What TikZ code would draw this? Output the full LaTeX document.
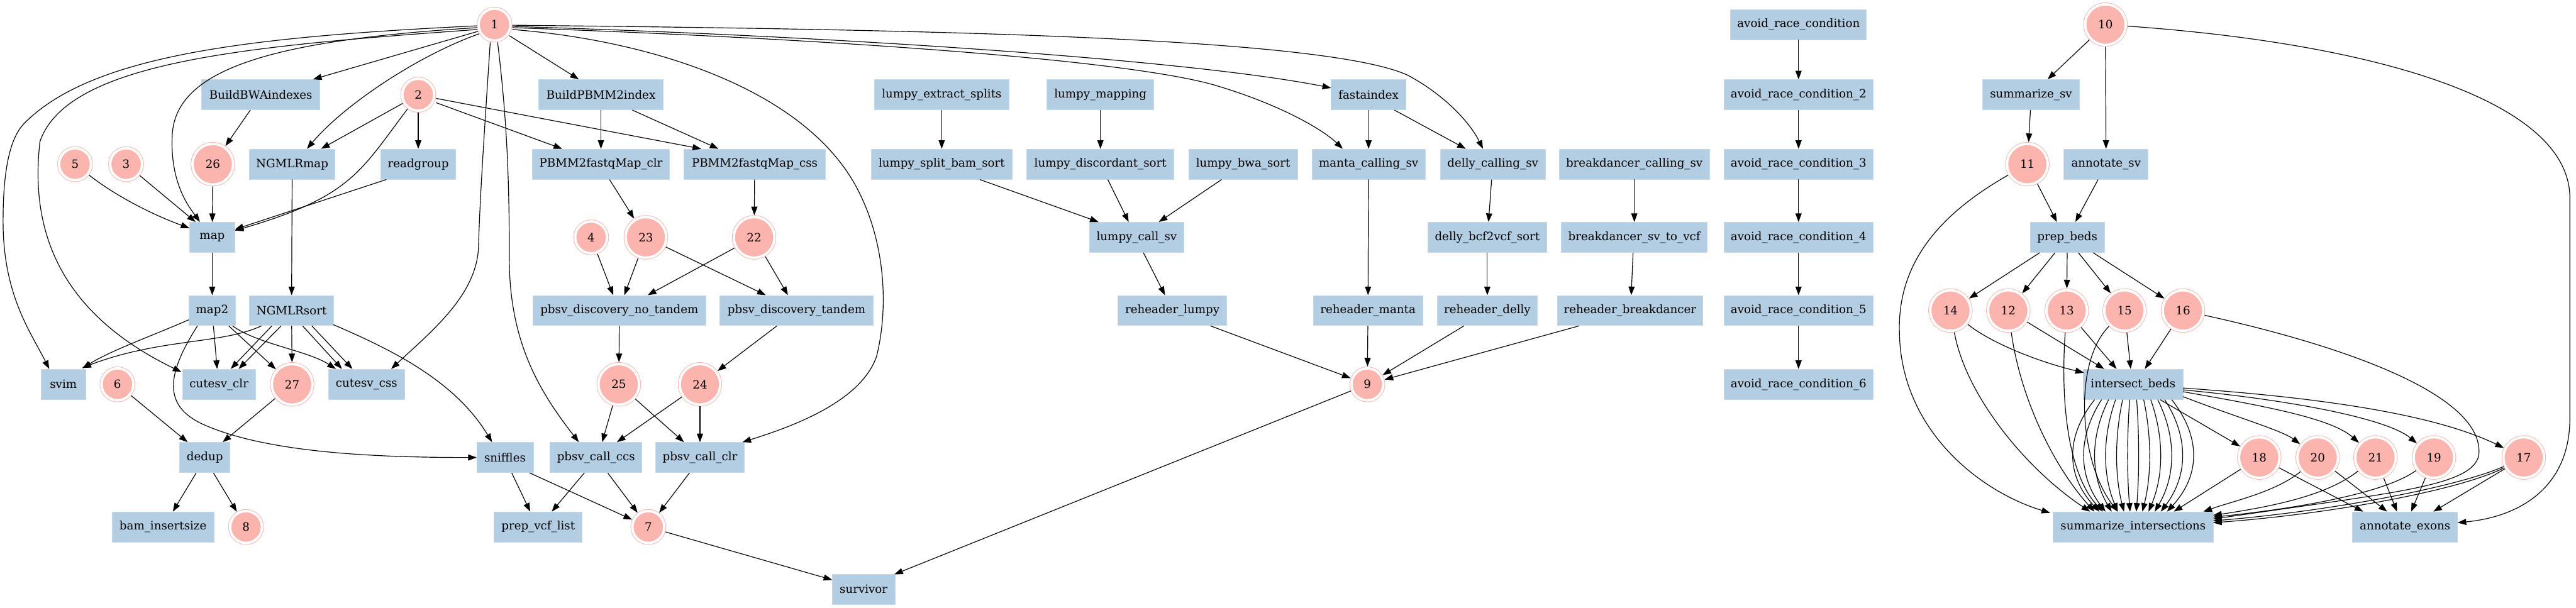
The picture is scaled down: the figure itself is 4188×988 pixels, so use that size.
\documentclass[tikz,border=0pt]{standalone}
\usepackage{fontspec}
\setmainfont{DejaVu Serif}
\usetikzlibrary{arrows.meta,calc}
\definecolor{pk}{HTML}{FBB4AE}
\definecolor{bx}{HTML}{B3CDE3}
\begin{document}
\begin{tikzpicture}[x=0.5pt,y=-0.5pt,
  lbl/.style={font=\fontsize{9.33pt}{11pt}\selectfont},
  box/.style={lbl, rectangle, fill=bx, draw=bx!75!white, line width=0.4pt, minimum height=24.5pt, inner sep=0pt},
  dc/.style={lbl, circle, fill=pk, draw=pk, double=white, double distance=2pt, line width=0.5pt, minimum size=26pt, inner sep=0pt, outer sep=1.5pt},
  dcc/.style={dc, minimum size=33pt},
  e/.style={line width=0.6pt, -{Triangle[length=7pt,width=5pt]}}]
\useasboundingbox (0,0) rectangle (4188,988);
% row 0
\node[dc] (n1) at (804,40) {1};
\node[box, minimum width=110.5pt] (arc1) at (2924,40) {avoid\_race\_condition};
\node[dcc] (n10) at (3423,40) {10};
% row 1
\node[box, minimum width=96pt] (bbwa) at (424,154) {BuildBWAindexes};
\node[dc] (n2) at (680,154) {2};
\node[box, minimum width=101.5pt] (bpb) at (977,154) {BuildPBMM2index};
\node[box, minimum width=109.5pt] (les) at (1531,154) {lumpy\_extract\_splits};
\node[box, minimum width=87pt] (lmap) at (1789,154) {lumpy\_mapping};
\node[box, minimum width=61pt] (fai) at (2225,154) {fastaindex};
\node[box, minimum width=121pt] (arc2) at (2924,154) {avoid\_race\_condition\_2};
\node[box, minimum width=78.5pt] (ssv) at (3302,154) {summarize\_sv};
% row 2
\node[dc] (n5) at (122,267) {5};
\node[dc] (n3) at (205,267) {3};
\node[dcc] (n26) at (346,267) {26};
\node[box, minimum width=69.5pt] (ngm) at (475,267) {NGMLRmap};
\node[box, minimum width=61pt] (rg) at (680,267) {readgroup};
\node[box, minimum width=111.5pt] (pclr) at (977,267) {PBMM2fastqMap\_clr};
\node[box, minimum width=115pt] (pcss) at (1227,267) {PBMM2fastqMap\_css};
\node[box, minimum width=114.5pt] (lsbs) at (1531,267) {lumpy\_split\_bam\_sort};
\node[box, minimum width=119.5pt] (lds) at (1789,267) {lumpy\_discordant\_sort};
\node[box, minimum width=88.5pt] (lbs) at (2021,267) {lumpy\_bwa\_sort};
\node[box, minimum width=92pt] (manta) at (2225,267) {manta\_calling\_sv};
\node[box, minimum width=85.5pt] (delly) at (2427,267) {delly\_calling\_sv};
\node[box, minimum width=122pt] (bdc) at (2657,267) {breakdancer\_calling\_sv};
\node[box, minimum width=121pt] (arc3) at (2924,267) {avoid\_race\_condition\_3};
\node[dcc] (n11) at (3296,267) {11};
\node[box, minimum width=68.5pt] (asv) at (3424,267) {annotate\_sv};
% row 3
\node[box, minimum width=36.5pt] (map) at (345,386) {map};
\node[dc] (n4) at (961,386) {4};
\node[dcc] (n23) at (1050,386) {23};
\node[dcc] (n22) at (1226,386) {22};
\node[box, minimum width=77pt] (lcs) at (1848,386) {lumpy\_call\_sv};
\node[box, minimum width=97pt] (dbs) at (2418,386) {delly\_bcf2vcf\_sort};
\node[box, minimum width=118.5pt] (bsv) at (2657,386) {breakdancer\_sv\_to\_vcf};
\node[box, minimum width=121pt] (arc4) at (2924,386) {avoid\_race\_condition\_4};
\node[box, minimum width=60.5pt] (pb) at (3361,386) {prep\_beds};
% row 4
\node[box, minimum width=38pt] (map2) at (345,505) {map2};
\node[box, minimum width=68.5pt] (ngs) at (474,505) {NGMLRsort};
\node[box, minimum width=140.5pt] (pdnt) at (1007,505) {pbsv\_discovery\_no\_tandem};
\node[box, minimum width=125pt] (pdt) at (1295,505) {pbsv\_discovery\_tandem};
\node[box, minimum width=88.5pt] (rl) at (1906,505) {reheader\_lumpy};
\node[box, minimum width=89pt] (rm) at (2224,505) {reheader\_manta};
\node[box, minimum width=81.5pt] (rd) at (2418,505) {reheader\_delly};
\node[box, minimum width=118.5pt] (rb) at (2650,505) {reheader\_breakdancer};
\node[box, minimum width=121pt] (arc5) at (2924,505) {avoid\_race\_condition\_5};
\node[dcc] (n14) at (3171,505) {14};
\node[dcc] (n12) at (3265,505) {12};
\node[dcc] (n13) at (3360,505) {13};
\node[dcc] (n15) at (3454,505) {15};
\node[dcc] (n16) at (3549,505) {16};
% row 5
\node[box, minimum width=36.5pt] (svim) at (103,625) {svim};
\node[dc] (n6) at (191,625) {6};
\node[box, minimum width=59.5pt] (cclr) at (356,625) {cutesv\_clr};
\node[dcc] (n27) at (475,625) {27};
\node[box, minimum width=62pt] (ccss) at (596,625) {cutesv\_css};
\node[dcc] (n25) at (1006,625) {25};
\node[dcc] (n24) at (1138,625) {24};
\node[dc] (n9) at (2223,625) {9};
\node[box, minimum width=121pt] (arc6) at (2924,625) {avoid\_race\_condition\_6};
\node[box, minimum width=81pt] (ib) at (3468,625) {intersect\_beds};
% row 6
\node[box, minimum width=41pt] (dedup) at (333,744) {dedup};
\node[box, minimum width=46pt] (snf) at (821,744) {sniffles};
\node[box, minimum width=74.5pt] (pcc) at (969,744) {pbsv\_call\_ccs};
\node[box, minimum width=72pt] (pcl) at (1138,744) {pbsv\_call\_clr};
\node[dcc] (n18) at (3673,744) {18};
\node[dcc] (n20) at (3768,744) {20};
\node[dcc] (n21) at (3862,744) {21};
\node[dcc] (n19) at (3957,744) {19};
\node[dcc] (n17) at (4103,744) {17};
% row 7
\node[box, minimum width=83pt] (bis) at (265,857) {bam\_insertsize};
\node[dc] (n8) at (400,857) {8};
\node[box, minimum width=71.5pt] (pvl) at (875,857) {prep\_vcf\_list};
\node[dc] (n7) at (1054,857) {7};
\node[box, minimum width=130pt] (si) at (3468,857) {summarize\_intersections};
\node[box, minimum width=85.5pt] (ae) at (3910,857) {annotate\_exons};
% row 8
\node[box, minimum width=51pt] (surv) at (1404,958) {survivor};

% ---- edges from 1
\draw[e] ($(n1)+(-28,2)$) .. controls (400,60) and (150,90) .. (40,200) .. controls (15,225) and (5,280) .. (5,360) .. controls (5,480) and (50,540) .. ($(svim)+(-23,-25)$);
\draw[e] ($(n1)+(-28,8)$) .. controls (400,75) and (110,100) .. (65,230) .. controls (45,400) and (120,520) .. ($(cclr)+(-61,-20)$);
\draw[e] ($(n1)+(-28,5)$) .. controls (450,65) and (285,110) .. (280,220) .. controls (276,300) and (310,340) .. ($(map)+(-20,-25)$);
\draw[e] ($(n1)+(-27,11)$) -- ($(bbwa)+(85,-25)$);
\draw[e] ($(n1)+(-25,15)$) .. controls (680,90) and (560,170) .. ($(ngm)+(24,-25)$);
\draw[e] ($(n1)+(24,18)$) -- ($(bpb)+(-36,-25)$);
\draw[e] ($(n1)+(-7,29)$) .. controls (785,250) and (780,330) .. (778,400) .. controls (776,480) and (700,540) .. ($(ccss)+(40,-25)$);
\draw[e] ($(n1)+(5,29)$) .. controls (825,200) and (828,300) .. (828,420) .. controls (828,560) and (880,640) .. ($(pcc)+(-28,-25)$);
\draw[e] ($(n1)+(29,8)$) .. controls (1050,65) and (1300,140) .. (1390,300) .. controls (1440,390) and (1445,500) .. (1425,580) .. controls (1400,650) and (1300,690) .. ($(pcl)+(69,-25)$);
\draw[e] ($(n1)+(29,3)$) .. controls (1400,60) and (1950,100) .. ($(fai)+(-61,-11)$);
\draw[e] ($(n1)+(29,5)$) .. controls (1400,65) and (1850,100) .. (1980,140) .. controls (2080,170) and (2150,210) .. ($(manta)+(-42,-25)$);
\draw[e] ($(n1)+(29,1)$) .. controls (1500,48) and (2150,60) .. (2288,122) .. controls (2350,155) and (2390,200) .. ($(delly)+(-16,-25)$);
% ---- from 2
\draw[e] (n2) -- ($(ngm)+(47,-25)$);
\draw[e] (n2) .. controls (585,280) and (570,320) .. ($(map)+(37,-11)$);
\draw[e] ($(rg)+(-52,25)$) -- ($(map)+(37,-13)$);
\draw[e] (n2) -- (rg);
\draw[e] ($(n2)+(29,13)$) -- ($(pclr)+(-63,-25)$);
\draw[e] ($(n2)+(29,6)$) -- ($(pcss)+(-87,-25)$);
\draw[e] (bpb) -- (pclr);
\draw[e] ($(bpb)+(51,25)$) -- ($(pcss)+(-59,-25)$);
\draw[e] ($(bbwa)+(-17,25)$) -- (n26);
% ---- map
\draw[e] (n5) .. controls (190,320) and (250,350) .. ($(map)+(-37,-15)$);
\draw[e] (n3) -- ($(map)+(-27,-25)$);
\draw[e] (n26) -- (map);
\draw[e] (map) -- (map2);
\draw[e] (ngm) -- (ngs);
% ---- map2
\draw[e] ($(map2)+(-38,15)$) .. controls (250,545) and (180,570) .. ($(svim)+(31,-26)$);
\draw[e] ($(map2)+(2,25)$) -- ($(cclr)+(-3,-25)$);
\draw[e] ($(map2)+(27,25)$) -- (n27);
\draw[e] ($(map2)+(33,25)$) .. controls (420,560) and (500,570) .. ($(ccss)+(-50,-25)$);
\draw[e] ($(map2)+(-24,25)$) .. controls (270,610) and (265,660) .. (330,690) .. controls (430,735) and (600,744) .. ($(snf)+(-46,0)$);
% ---- NGMLRsort
\draw[e] ($(ngs)+(-49,25)$) .. controls (360,560) and (260,550) .. ($(svim)+(31,-27)$);
\draw[e] ($(ngs)+(-32,25)$) -- ($(cclr)+(19,-25)$);
\draw[e] ($(ngs)+(-17,25)$) -- ($(cclr)+(32,-25)$);
\draw[e] (ngs) -- (n27);
\draw[e] ($(ngs)+(18,25)$) -- ($(ccss)+(-40,-25)$);
\draw[e] ($(ngs)+(33,25)$) -- ($(ccss)+(-23,-25)$);
\draw[e] ($(ngs)+(68,23)$) .. controls (640,570) and (740,620) .. ($(snf)+(-21,-25)$);
% ---- dedup etc
\draw[e] (n6) -- ($(dedup)+(-28,-25)$);
\draw[e] (n27) -- ($(dedup)+(29,-25)$);
\draw[e] ($(dedup)+(-14,25)$) -- ($(bis)+(16,-25)$);
\draw[e] ($(dedup)+(14,25)$) -- (n8);
\draw[e] ($(snf)+(11,25)$) -- ($(pvl)+(-13,-25)$);
\draw[e] ($(snf)+(40,25)$) -- (n7);
\draw[e] ($(pcc)+(-19,25)$) -- ($(pvl)+(22,-25)$);
\draw[e] ($(pcc)+(19,25)$) -- (n7);
\draw[e] ($(pcl)+(-17,25)$) -- (n7);
\draw[e] (n7) -- ($(surv)+(-51,-15)$);
\draw[e] (n9) -- ($(surv)+(50,-24)$);
% ---- pbsv
\draw[e] ($(pclr)+(14,25)$) -- (n23);
\draw[e] (pcss) -- (n22);
\draw[e] (n4) -- ($(pdnt)+(-10,-25)$);
\draw[e] (n23) -- ($(pdnt)+(8,-25)$);
\draw[e] (n22) -- ($(pdnt)+(46,-25)$);
\draw[e] (n23) -- ($(pdt)+(-50,-25)$);
\draw[e] (n22) -- ($(pdt)+(-14,-25)$);
\draw[e] (pdnt) -- (n25);
\draw[e] ($(pdt)+(-32,25)$) -- (n24);
\draw[e] (n25) -- ($(pcc)+(10,-25)$);
\draw[e] (n25) -- ($(pcl)+(-26,-25)$);
\draw[e] (n24) -- ($(pcc)+(34,-25)$);
\draw[e] (n24) -- (pcl);
% ---- lumpy
\draw[e] (les) -- (lsbs);
\draw[e] (lmap) -- (lds);
\draw[e] ($(lsbs)+(62,25)$) -- ($(lcs)+(-62,-25)$);
\draw[e] ($(lds)+(12,25)$) -- ($(lcs)+(-13,-25)$);
\draw[e] ($(lbs)+(-35,25)$) -- ($(lcs)+(36,-25)$);
\draw[e] ($(lcs)+(11,25)$) -- ($(rl)+(-12,-25)$);
\draw[e] ($(rl)+(62,25)$) -- (n9);
% ---- manta / delly / breakdancer
\draw[e] (fai) -- (manta);
\draw[e] ($(fai)+(42,25)$) -- ($(delly)+(-44,-25)$);
\draw[e] (manta) -- (rm);
\draw[e] (rm) -- (n9);
\draw[e] ($(delly)+(-2,25)$) -- ($(dbs)+(2,-25)$);
\draw[e] (dbs) -- (rd);
\draw[e] ($(rd)+(-38,25)$) -- (n9);
\draw[e] (bdc) -- (bsv);
\draw[e] ($(bsv)+(-2,25)$) -- ($(rb)+(2,-25)$);
\draw[e] ($(rb)+(-83,25)$) -- (n9);
% ---- avoid race condition chain
\draw[e] (arc1) -- (arc2);
\draw[e] (arc2) -- (arc3);
\draw[e] (arc3) -- (arc4);
\draw[e] (arc4) -- (arc5);
\draw[e] (arc5) -- (arc6);
% ---- right cluster
\draw[e] (n10) -- ($(ssv)+(27,-25)$);
\draw[e] (n10) -- (asv);
\draw[e] (n10) .. controls (3850,70) and (4175,160) .. (4178,320) -- (4178,680) .. controls (4178,790) and (4100,840) .. ($(ae)+(85.5,-7)$);
\draw[e] ($(ssv)+(-1,25)$) -- (n11);
\draw[e] (n11) -- ($(pb)+(-17,-25)$);
\draw[e] ($(asv)+(-13,25)$) -- ($(pb)+(13,-25)$);
\draw[e] (n11) .. controls (3150,350) and (3085,430) .. (3088,540) .. controls (3090,700) and (3220,800) .. ($(si)+(-135,-23)$);
\draw[e] ($(pb)+(-45,25)$) -- (n14);
\draw[e] ($(pb)+(-20,25)$) -- (n12);
\draw[e] (pb) -- (n13);
\draw[e] ($(pb)+(18,25)$) -- (n15);
\draw[e] ($(pb)+(42,25)$) -- (n16);
\draw[e] (n14) .. controls (3240,560) and (3320,590) .. ($(ib)+(-80,-19)$);
\draw[e] (n12) -- ($(ib)+(-47,-25)$);
\draw[e] (n13) -- ($(ib)+(-27,-25)$);
\draw[e] (n15) -- ($(ib)+(-4,-25)$);
\draw[e] (n16) -- ($(ib)+(19,-25)$);
\draw[e] (n14) .. controls (3195,640) and (3290,760) .. ($(si)+(-70,-25)$);
\draw[e] (n12) .. controls (3285,650) and (3340,760) .. ($(si)+(-63,-25)$);
\draw[e] (n13) .. controls (3348,680) and (3370,780) .. ($(si)+(-49,-25)$);
\draw[e] (n15) .. controls (3370,590) and (3380,750) .. ($(si)+(-25,-25)$);
\draw[e] (n16) .. controls (3800,560) and (4040,640) .. (4030,740) .. controls (4020,790) and (3900,800) .. ($(si)+(130,-13)$);
\foreach \i in {-5.5,-4.5,-3.5,-2.5,-1.5,-0.5,0.5,1.5,2.5,3.5,4.5,5.5} {
  \draw[e] ($(ib.south)+(\i*11.4,0)$) .. controls ($(ib.south)+(\i*20,60)$) and ($(si.north)+(\i*20,-60)$) .. ($(si.north)+(\i*10,0)$);
}
\draw[e] ($(ib)+(44,25)$) -- (n18);
\draw[e] ($(ib)+(81,20)$) .. controls (3640,680) and (3710,700) .. (n20);
\draw[e] ($(ib)+(81,12)$) .. controls (3680,660) and (3790,680) .. (n21);
\draw[e] ($(ib)+(81,9)$) .. controls (3720,650) and (3880,680) .. (n19);
\draw[e] ($(ib)+(81,6)$) .. controls (3750,645) and (3950,670) .. (n17);
\draw[e] (n18) -- ($(si)+(66,-25)$);
\draw[e] (n18) -- ($(ae)+(-68,-25)$);
\draw[e] (n20) .. controls (3700,800) and (3630,815) .. ($(si)+(114,-25)$);
\draw[e] (n20) -- ($(ae)+(-29,-25)$);
\draw[e] (n21) .. controls (3790,800) and (3720,820) .. ($(si)+(130,-19)$);
\draw[e] (n21) -- ($(ae)+(-13,-25)$);
\draw[e] (n19) .. controls (3880,800) and (3750,825) .. ($(si)+(130,-16)$);
\draw[e] (n19) -- ($(ae)+(10,-25)$);
\draw[e] (n17) .. controls (4000,790) and (3800,830) .. ($(si)+(130,-10)$);
\draw[e] (n17) .. controls (4005,795) and (3800,835) .. ($(si)+(130,-7)$);
\draw[e] (n17) -- ($(ae)+(46,-25)$);
\end{tikzpicture}
\end{document}
